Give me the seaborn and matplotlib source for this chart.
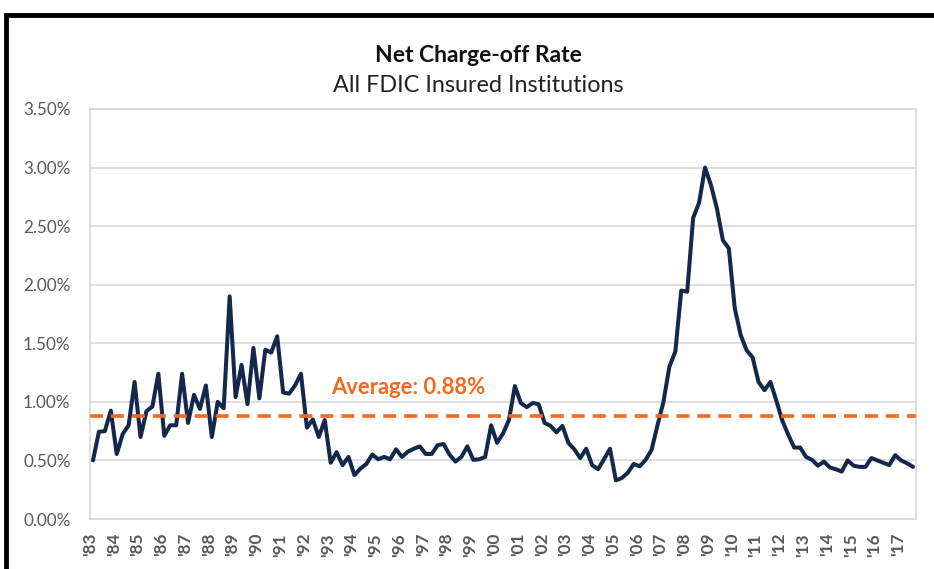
import pandas as pd
import matplotlib.pyplot as plt
import matplotlib.patches as patches
import seaborn as sns

# ------------------------------
# Data (quarterly, 1983 Q1 - 2017 Q3), percent
# ------------------------------
rates = [
    0.50, 0.745, 0.75, 0.925, 0.555, 0.725, 0.80, 1.17, 0.70, 0.92, 0.96, 1.24,
    0.71, 0.80, 0.80, 1.24, 0.82, 1.06, 0.94, 1.14, 0.70, 1.00, 0.945, 1.90,
    1.04, 1.315, 0.98, 1.46, 1.03, 1.445, 1.42, 1.56, 1.08, 1.07, 1.14, 1.24,
    0.78, 0.85, 0.70, 0.845, 0.48, 0.57, 0.46, 0.53, 0.375, 0.43, 0.47, 0.55,
    0.51, 0.53, 0.51, 0.595, 0.53, 0.575, 0.60, 0.62, 0.555, 0.555, 0.63, 0.64,
    0.55, 0.49, 0.53, 0.62, 0.505, 0.51, 0.53, 0.80, 0.65, 0.73, 0.845, 1.135,
    0.99, 0.955, 0.99, 0.98, 0.82, 0.795, 0.74, 0.795, 0.65, 0.595, 0.52, 0.60,
    0.46, 0.425, 0.51, 0.60, 0.33, 0.35, 0.395, 0.47, 0.45, 0.505, 0.59, 0.80,
    1.00, 1.30, 1.43, 1.95, 1.94, 2.57, 2.70, 3.00, 2.85, 2.65, 2.38, 2.31,
    1.80, 1.57, 1.44, 1.38, 1.17, 1.10, 1.17, 1.01, 0.84, 0.72, 0.61, 0.61,
    0.53, 0.505, 0.455, 0.49, 0.44, 0.425, 0.405, 0.50, 0.455, 0.445, 0.445, 0.52,
    0.50, 0.48, 0.46, 0.545, 0.50, 0.475, 0.445,
]
average = 0.88
year_labels = ["'%02d" % (y % 100) for y in range(1983, 2018)]

df = pd.DataFrame({"quarter": [i + 0.5 for i in range(len(rates))], "rate": rates})

sns.set_style("white")
plt.rcParams["font.family"] = ["Lato", "DejaVu Sans"]

NAVY = "#14284b"
ORANGE = "#f26a1f"
GRID = "#d9d9d9"
TEXT = "#595959"

fig = plt.figure(figsize=(9.34, 5.69), dpi=100)
ax = fig.add_axes([90 / 934, 1 - 519 / 569, 826 / 934, 410 / 569])

sns.lineplot(data=df, x="quarter", y="rate", color=NAVY, linewidth=2.9, ax=ax)
ax.axhline(average, color=ORANGE, linewidth=2.6, linestyle=(0, (3.6, 2.2)), zorder=3)
ax.text(40.5, 1.03, "Average: 0.88%", color=ORANGE, fontsize=15.8, fontweight="bold",
        ha="left", va="bottom")

ax.set_xlim(0, len(rates))
ax.set_ylim(0, 3.5)
ax.set_yticks([i * 0.5 for i in range(8)])
ax.set_yticklabels(["%.2f%%" % (i * 0.5) for i in range(8)])
ax.set_xticks([i * 4 for i in range(len(year_labels))])
ax.set_xticklabels(year_labels, rotation=90)
ax.set_xlabel("")
ax.set_ylabel("")

ax.grid(axis="y", color=GRID, linewidth=1.2)
ax.set_axisbelow(True)
for s in ax.spines.values():
    s.set_color(GRID)
    s.set_linewidth(1.2)
ax.tick_params(axis="y", length=0, pad=14, labelsize=12.3, labelcolor=TEXT)
ax.tick_params(axis="x", length=5, width=1, color=GRID, direction="out", pad=5,
               labelsize=12.3, labelcolor=TEXT)
for lbl in ax.get_xticklabels():
    lbl.set_fontweight("bold")

fig.text(478 / 934, 1 - 55 / 569, "Net Charge-off Rate", ha="center", va="center",
         fontsize=16.5, fontweight="bold", color="#111111")
fig.text(478 / 934, 1 - 86 / 569, "All FDIC Insured Institutions", ha="center", va="center",
         fontsize=16.8, color="#222222")

# black frame around the chart (right and bottom edges run off the picture)
frame = patches.Rectangle((5.5 / 934, -0.1), 1.2, 1.1 - 15 / 569, transform=fig.transFigure,
                          fill=False, edgecolor="black", linewidth=3.5)
fig.patches.append(frame)

fig.savefig("out.png", dpi=100)
